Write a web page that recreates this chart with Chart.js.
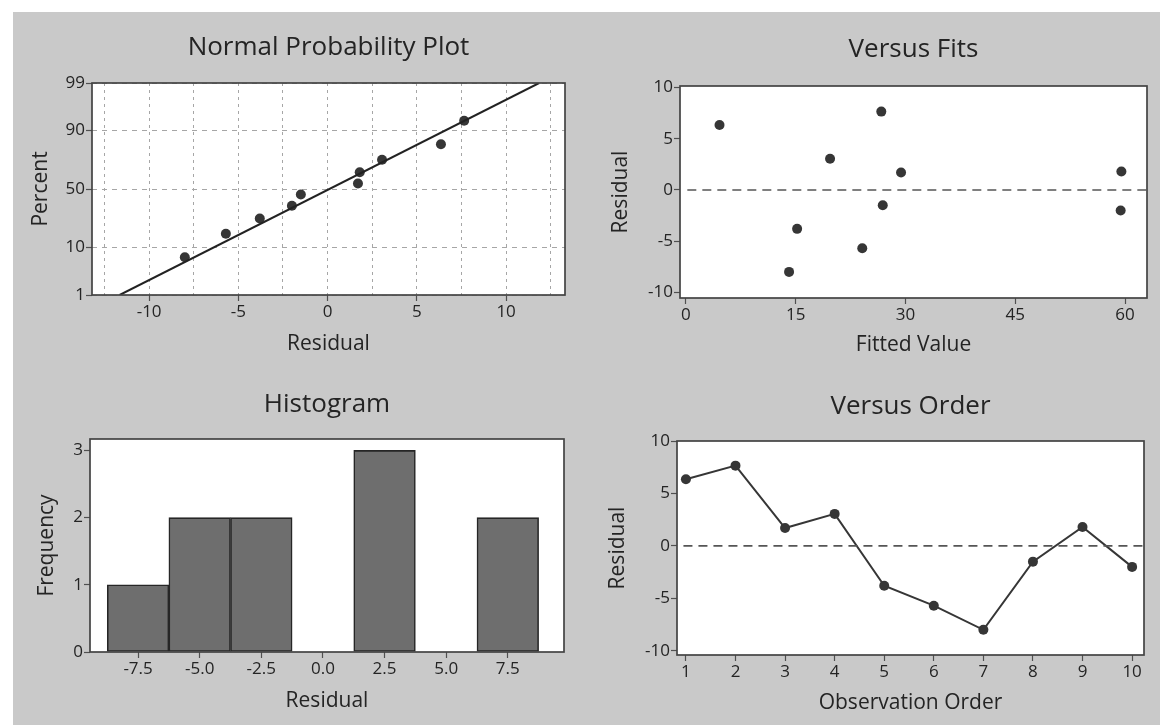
<!DOCTYPE html>
<html>
<head>
<meta charset="utf-8">
<title>Residual Plots</title>
<script src="https://cdn.jsdelivr.net/npm/chart.js@4.4.1/dist/chart.umd.min.js"></script>
<style>
    html, body { margin: 0; padding: 0; background: #fff; }
    #page { position: relative; width: 1160px; height: 725px; overflow: hidden; background: #fff; }
    #paper { position: absolute; left: 13px; top: 12px; right: 0; bottom: 0; background: #c9c9c9; }
    canvas { position: absolute; }
</style>
</head>
<body>
<div id="page">
    <div id="paper"></div>
    <canvas id="nppChart" width="580" height="360" style="left:0;top:0"></canvas>
    <canvas id="fitsChart" width="580" height="360" style="left:580px;top:0"></canvas>
    <canvas id="histChart" width="580" height="365" style="left:0;top:360px"></canvas>
    <canvas id="orderChart" width="580" height="365" style="left:580px;top:360px"></canvas>
</div>
<script>
// Data
const observationOrder = [1, 2, 3, 4, 5, 6, 7, 8, 9, 10];
const residuals = [6.35, 7.65, 1.7, 3.05, -3.8, -5.7, -8.0, -1.5, 1.8, -2.0];
const fittedValues = [4.6, 26.7, 29.4, 19.7, 15.2, 24.1, 14.1, 26.9, 59.5, 59.4];

// Normal probability plot: plotting percent of each sorted residual + fitted line ends
const nppPercent = [6.7, 16.3, 25.9, 35.6, 45.2, 54.8, 64.4, 74.0, 83.7, 93.3];
const fitLineResidual = [-11.65, 11.85];
const fitLinePercent = [1, 99];
const percentTicks = [1, 10, 50, 90, 99];
const nppResidualTicks = [-12.5, -10, -7.5, -5, -2.5, 0, 2.5, 5, 7.5, 10, 12.5];

// Histogram bins
const histBinCenters = [-7.5, -5, -2.5, 0, 2.5, 5, 7.5];
const histFrequency = [1, 2, 2, 0, 3, 0, 2];
const frequencyTicks = [0, 1, 2, 3];

const residualTicks = [-10, -5, 0, 5, 10];
const fittedTicks = [0, 15, 30, 45, 60];

const FONT = '"Open Sans", "Noto Sans", sans-serif';
const TEXT = '#242424';
const DOT = '#363636';

// inverse of the standard normal CDF (Acklam), used for the probability axis
function normInv(p) {
    const a = [-39.69683028665376, 220.9460984245205, -275.9285104469687, 138.3577518672690, -30.66479806614716, 2.506628277459239];
    const b = [-54.47609879822406, 161.5858368580409, -155.6989798598866, 66.80131188771972, -13.28068155288572];
    const c = [-0.007784894002430293, -0.3223964580411365, -2.400758277161838, -2.549732539343734, 4.374664141464968, 2.938163982698783];
    const d = [0.007784695709041462, 0.3224671290700398, 2.445134137142996, 3.754408661907416];
    const pl = 0.02425;
    let q, r;
    if (p < pl) {
        q = Math.sqrt(-2 * Math.log(p));
        return (((((c[0]*q+c[1])*q+c[2])*q+c[3])*q+c[4])*q+c[5]) / ((((d[0]*q+d[1])*q+d[2])*q+d[3])*q+1);
    }
    if (p > 1 - pl) {
        q = Math.sqrt(-2 * Math.log(1 - p));
        return -(((((c[0]*q+c[1])*q+c[2])*q+c[3])*q+c[4])*q+c[5]) / ((((d[0]*q+d[1])*q+d[2])*q+d[3])*q+1);
    }
    q = p - 0.5;
    r = q * q;
    return (((((a[0]*r+a[1])*r+a[2])*r+a[3])*r+a[4])*r+a[5])*q / (((((b[0]*r+b[1])*r+b[2])*r+b[3])*r+b[4])*r+1);
}

Chart.defaults.font.family = FONT;
Chart.defaults.color = TEXT;
Chart.defaults.animation = false;

// white plot area + dark frame round it
const framePlugin = {
    id: 'frame',
    beforeDraw(chart) {
        const { ctx, chartArea: a } = chart;
        ctx.save();
        ctx.fillStyle = '#ffffff';
        ctx.fillRect(a.left, a.top, a.width, a.height);
        ctx.restore();
    },
    afterDraw(chart) {
        const { ctx, chartArea: a } = chart;
        ctx.save();
        ctx.strokeStyle = '#434343';
        ctx.lineWidth = 1.7;
        ctx.strokeRect(a.left, a.top, a.width, a.height);
        ctx.restore();
    }
};

// one axis; box = fixed axis width (y) or height (x)
function makeAxis(opts) {
    return {
        type: 'linear',
        min: opts.min,
        max: opts.max,
        offset: false,
        afterBuildTicks: scale => { scale.ticks = opts.ticks.map(v => ({ value: v })); },
        afterFit: scale => {
            if (opts.horizontal) scale.height = opts.box; else scale.width = opts.box;
        },
        ticks: {
            autoSkip: false,
            maxRotation: 0,
            padding: 1,
            font: { size: 17 },
            color: TEXT,
            callback: opts.label || (v => v)
        },
        grid: {
            offset: false,
            display: true,
            drawOnChartArea: !!opts.gridColor,
            color: opts.gridColor || 'transparent',
            drawTicks: true,
            tickLength: 6,
            tickWidth: 1.2,
            tickColor: opts.tickColor || '#505050'
        },
        border: { display: false, dash: opts.dash || [] },
        title: {
            display: true,
            text: opts.title,
            font: { size: 21 },
            color: TEXT,
            padding: opts.titlePadding
        }
    };
}

function makeOptions(cfg) {
    return {
        responsive: false,
        devicePixelRatio: 1,
        layout: { padding: { left: 0, top: 0, bottom: 0, right: cfg.padRight } },
        plugins: {
            legend: { display: false },
            tooltip: { enabled: false },
            title: {
                display: true,
                text: cfg.title,
                fullSize: false,
                font: { size: 26, weight: 'normal' },
                color: TEXT,
                padding: cfg.titlePadding
            }
        },
        scales: { x: cfg.x, y: cfg.y }
    };
}

// Normal Probability Plot
const sortedResiduals = residuals.slice().sort((a, b) => a - b);
new Chart(document.getElementById('nppChart'), {
    type: 'scatter',
    data: {
        datasets: [
            {
                data: fitLineResidual.map((x, i) => ({ x: x, y: normInv(fitLinePercent[i] / 100) })),
                showLine: true,
                borderColor: '#222',
                borderWidth: 2,
                pointRadius: 0
            },
            {
                data: sortedResiduals.map((x, i) => ({ x: x, y: normInv(nppPercent[i] / 100) })),
                backgroundColor: DOT,
                borderWidth: 0,
                pointRadius: 5
            }
        ]
    },
    options: makeOptions({
        title: 'Normal Probability Plot',
        titlePadding: { top: 32.4, bottom: 19.4 },
        padRight: 15,
        x: makeAxis({
            horizontal: true, box: 65, min: -13.2, max: 13.3,
            ticks: nppResidualTicks,
            label: v => (v % 5 === 0 ? v : ''),
            gridColor: '#a6a6a6', dash: [3, 4],
            tickColor: c => (c.tick && c.tick.value % 5 === 0 ? '#505050' : 'transparent'),
            title: 'Residual', titlePadding: { top: 0, bottom: 3 }
        }),
        y: makeAxis({
            box: 92, min: normInv(0.01), max: normInv(0.99),
            ticks: percentTicks.map(p => normInv(p / 100)),
            label: (v, i) => percentTicks[i],
            gridColor: '#a6a6a6', dash: [5, 5],
            title: 'Percent', titlePadding: { top: 28.4, bottom: 0 }
        })
    }),
    plugins: [framePlugin]
});

// Versus Fits
new Chart(document.getElementById('fitsChart'), {
    type: 'scatter',
    data: {
        datasets: [
            {
                data: [{ x: 0.2, y: 0 }, { x: 63, y: 0 }],
                showLine: true,
                borderColor: '#555',
                borderWidth: 1.6,
                borderDash: [9, 6],
                pointRadius: 0
            },
            {
                data: fittedValues.map((x, i) => ({ x: x, y: residuals[i] })),
                backgroundColor: DOT,
                borderWidth: 0,
                pointRadius: 5
            }
        ]
    },
    options: makeOptions({
        title: 'Versus Fits',
        titlePadding: { top: 34.4, bottom: 20.4 },
        padRight: 13,
        x: makeAxis({
            horizontal: true, box: 62, min: -0.8, max: 63,
            ticks: fittedTicks,
            title: 'Fitted Value', titlePadding: { top: 0, bottom: 2 }
        }),
        y: makeAxis({
            box: 100, min: -10.55, max: 10.15,
            ticks: residualTicks,
            title: 'Residual', titlePadding: { top: 28.4, bottom: 0 }
        })
    }),
    plugins: [framePlugin]
});

// Histogram
new Chart(document.getElementById('histChart'), {
    type: 'bar',
    data: {
        datasets: [{
            data: histBinCenters.map((x, i) => ({ x: x, y: histFrequency[i] })),
            backgroundColor: '#6e6e6e',
            borderColor: '#262626',
            borderWidth: 1.6,
            borderSkipped: false,
            barPercentage: 1,
            categoryPercentage: 1
        }]
    },
    options: makeOptions({
        title: 'Histogram',
        titlePadding: { top: 29.4, bottom: 18.4 },
        padRight: 16,
        x: makeAxis({
            horizontal: true, box: 73, min: -9.45, max: 9.78,
            ticks: histBinCenters,
            label: v => v.toFixed(1),
            title: 'Residual', titlePadding: { top: 0, bottom: 11 }
        }),
        y: makeAxis({
            box: 90, min: 0, max: 3.17,
            ticks: frequencyTicks,
            title: 'Frequency', titlePadding: { top: 34.4, bottom: 0 }
        })
    }),
    plugins: [framePlugin]
});

// Versus Order
new Chart(document.getElementById('orderChart'), {
    type: 'scatter',
    data: {
        datasets: [
            {
                data: [{ x: 0.95, y: 0 }, { x: 10.24, y: 0 }],
                showLine: true,
                borderColor: '#555',
                borderWidth: 1.6,
                borderDash: [9, 6],
                pointRadius: 0
            },
            {
                data: observationOrder.map((x, i) => ({ x: x, y: residuals[i] })),
                showLine: true,
                borderColor: '#363636',
                borderWidth: 2,
                backgroundColor: DOT,
                pointBorderWidth: 0,
                pointRadius: 5
            }
        ]
    },
    options: makeOptions({
        title: 'Versus Order',
        titlePadding: { top: 31.4, bottom: 18.4 },
        padRight: 16,
        x: makeAxis({
            horizontal: true, box: 70, min: 0.82, max: 10.24,
            ticks: observationOrder,
            title: 'Observation Order', titlePadding: { top: 0, bottom: 9 }
        }),
        y: makeAxis({
            box: 97, min: -10.4, max: 10,
            ticks: residualTicks,
            title: 'Residual', titlePadding: { top: 25.4, bottom: 0 }
        })
    }),
    plugins: [framePlugin]
});
</script>
</body>
</html>
